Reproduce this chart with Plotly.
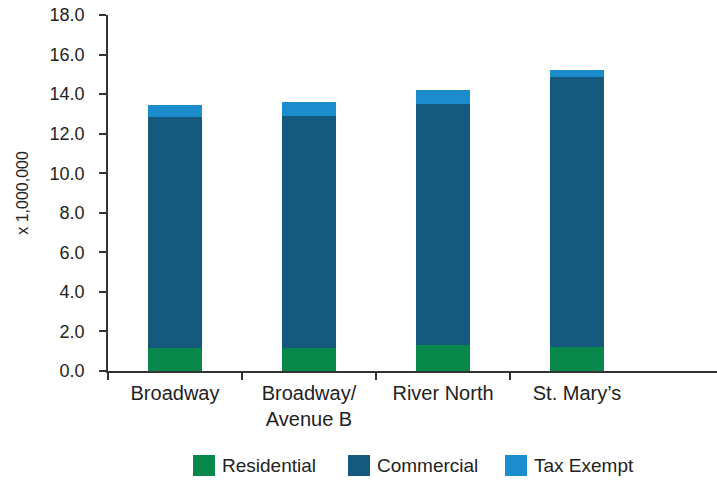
import plotly.graph_objects as go

# Districts and assessed value by property class (millions)
districts = ["Broadway", "Broadway/<br>Avenue B", "River North", "St. Mary\u2019s"]
residential = [1.18, 1.18, 1.31, 1.21]
commercial = [11.66, 11.71, 12.17, 13.67]
tax_exempt = [0.62, 0.71, 0.71, 0.34]

series = [
    ("Residential", residential, "#08874b"),
    ("Commercial", commercial, "#15597f"),
    ("Tax Exempt", tax_exempt, "#1b8dcc"),
]

W, H = 717, 480
ML, MR, MT, MB = 108, 0, 15, 109
FONT = "Liberation Sans, Arial, Helvetica, sans-serif"
INK = "#222222"

x_pos = list(range(len(districts)))

fig = go.Figure()
for name, vals, color in series:
    fig.add_trace(go.Bar(
        x=x_pos, y=vals, name=name, marker_color=color,
        marker_line_width=0, width=0.4, showlegend=False,
    ))

plot_w = W - ML - MR
plot_h = H - MT - MB


def px_x(px):
    return (px - ML) / plot_w


def px_y(py):
    return (H - MB - py) / plot_h


# Legend row beneath the axis
shapes = []
annotations = []
legend_left = [193, 348, 505]
for (name, _, color), left in zip(series, legend_left):
    shapes.append(dict(
        type="rect", xref="paper", yref="paper",
        x0=px_x(left), x1=px_x(left + 22), y0=px_y(476), y1=px_y(455),
        fillcolor=color, line_width=0,
    ))
    annotations.append(dict(
        xref="paper", yref="paper", x=px_x(left + 27), y=px_y(465.5),
        text=name, showarrow=False, xanchor="left", yanchor="middle",
        font=dict(family=FONT, size=19, color=INK),
    ))

fig.update_layout(
    width=W, height=H,
    margin=dict(l=ML, r=MR, t=MT, b=MB),
    paper_bgcolor="white", plot_bgcolor="white",
    barmode="stack", bargap=0.6,
    font=dict(family=FONT, color=INK),
    shapes=shapes, annotations=annotations,
    xaxis=dict(
        range=[-0.5, -0.5 + plot_w / 134.0],
        tickmode="array", tickvals=x_pos, ticktext=districts,
        ticks="outside", ticklen=3, tickcolor="rgba(0,0,0,0)",
        tickfont=dict(size=20, color=INK),
        showline=True, linecolor="#333333", linewidth=1.5,
        showgrid=False, zeroline=False,
        minor=dict(tickmode="array", tickvals=[-0.5, 0.5, 1.5, 2.5],
                   ticks="outside", ticklen=7, tickcolor="#333333",
                   tickwidth=1.5, showgrid=False),
    ),
    yaxis=dict(
        range=[0, 18], tickmode="array",
        tickvals=[0, 2, 4, 6, 8, 10, 12, 14, 16, 18],
        tickformat=".1f",
        ticks="outside", ticklen=7, tickcolor="#333333", tickwidth=1.5,
        ticklabelstandoff=11,
        tickfont=dict(size=18, color=INK),
        showline=True, linecolor="#333333", linewidth=1.5,
        showgrid=False, zeroline=False,
        title=dict(text="x 1,000,000", standoff=17,
                   font=dict(size=16, color=INK)),
    ),
)

fig.write_html("out.html")
